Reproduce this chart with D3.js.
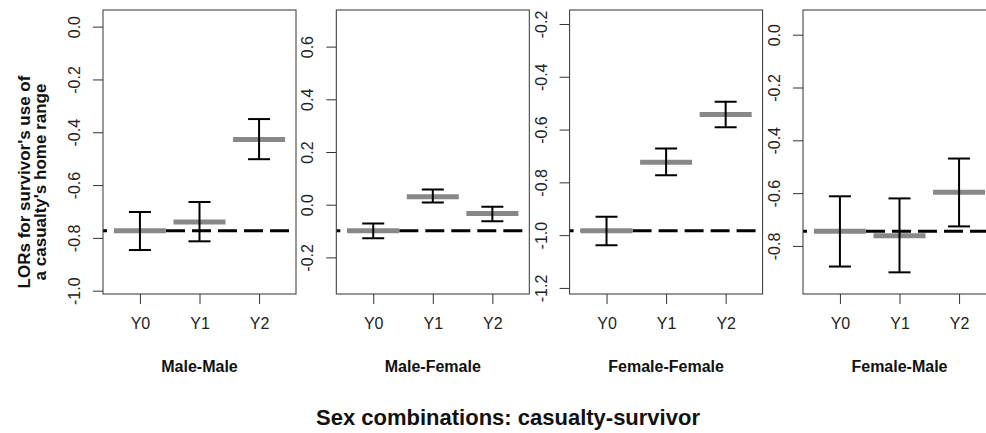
<!DOCTYPE html>
<html>
<head>
<meta charset="utf-8">
<script src="https://cdn.jsdelivr.net/npm/d3@7"></script>
<style>
body { margin: 0; background: #fff; }
svg { display: block; font-family: "Liberation Sans", Arial, sans-serif; }
</style>
</head>
<body>
<svg id="chart" width="986" height="433"></svg>
<script>
const groups = ["Male-Male", "Male-Female", "Female-Female", "Female-Male"];
const years = ["Y0", "Y1", "Y2"];
const means = [
  [-0.773, -0.740, -0.427],
  [-0.099, 0.030, -0.033],
  [-0.983, -0.724, -0.543],
  [-0.744, -0.761, -0.597]
];
const upper = [
  [-0.702, -0.664, -0.350],
  [-0.071, 0.058, -0.008],
  [-0.930, -0.672, -0.495],
  [-0.612, -0.620, -0.469]
];
const lower = [
  [-0.846, -0.813, -0.502],
  [-0.127, 0.008, -0.063],
  [-1.038, -0.773, -0.591],
  [-0.878, -0.900, -0.726]
];
const refLine = [-0.773, -0.099, -0.983, -0.744];
const yTicks = [
  [0.0, -0.2, -0.4, -0.6, -0.8, -1.0],
  [0.6, 0.4, 0.2, 0.0, -0.2],
  [-0.2, -0.4, -0.6, -0.8, -1.0, -1.2],
  [0.0, -0.2, -0.4, -0.6, -0.8]
];
const yDomains = [
  [-1.0125, 0.063],
  [-0.339, 0.739],
  [-1.223, -0.147],
  [-0.982, 0.0935]
];
const yTitle = ["LORs for survivor's use of", "a casualty's home range"];
const xTitle = "Sex combinations: casualty-survivor";

const svg = d3.select("#chart");
const plotTop = 10, plotBottom = 294, pw = 193;
const lefts = [103, 336.3, 569.6, 803];

groups.forEach((g, i) => {
  const left = lefts[i];
  const x = d3.scaleLinear().domain([0.38, 3.62]).range([left, left + pw]);
  const y = d3.scaleLinear().domain(yDomains[i]).range([plotBottom, plotTop]);
  const clipId = "clip" + i;
  svg.append("clipPath").attr("id", clipId)
    .append("rect").attr("x", left).attr("y", plotTop).attr("width", pw).attr("height", plotBottom - plotTop);
  const pg = svg.append("g");
  const inner = pg.append("g").attr("clip-path", `url(#${clipId})`);

  // reference dashed line
  inner.append("line")
    .attr("x1", x(0.38)).attr("x2", x(3.62))
    .attr("y1", y(refLine[i])).attr("y2", y(refLine[i]))
    .attr("stroke", "#000").attr("stroke-width", 3)
    .attr("stroke-dasharray", "19,7").attr("stroke-dashoffset", 15);

  // gray mean bars
  inner.selectAll("line.mean").data(means[i]).join("line").attr("class", "mean")
    .attr("x1", (d, j) => x(j + 1) - 26).attr("x2", (d, j) => x(j + 1) + 26)
    .attr("y1", d => y(d)).attr("y2", d => y(d))
    .attr("stroke", "#888").attr("stroke-width", 5);

  // error bars
  const eb = inner.selectAll("g.eb").data(years).join("g").attr("class", "eb");
  eb.append("line")
    .attr("x1", (d, j) => x(j + 1)).attr("x2", (d, j) => x(j + 1))
    .attr("y1", (d, j) => y(upper[i][j])).attr("y2", (d, j) => y(lower[i][j]))
    .attr("stroke", "#000").attr("stroke-width", 2);
  eb.append("line")
    .attr("x1", (d, j) => x(j + 1) - 11).attr("x2", (d, j) => x(j + 1) + 11)
    .attr("y1", (d, j) => y(upper[i][j])).attr("y2", (d, j) => y(upper[i][j]))
    .attr("stroke", "#000").attr("stroke-width", 2);
  eb.append("line")
    .attr("x1", (d, j) => x(j + 1) - 11).attr("x2", (d, j) => x(j + 1) + 11)
    .attr("y1", (d, j) => y(lower[i][j])).attr("y2", (d, j) => y(lower[i][j]))
    .attr("stroke", "#000").attr("stroke-width", 2);

  // box
  pg.append("rect").attr("x", left).attr("y", plotTop).attr("width", pw).attr("height", plotBottom - plotTop)
    .attr("fill", "none").attr("stroke", "#333").attr("stroke-width", 1);

  // y axis
  const ya = pg.append("g").attr("transform", `translate(${left},0)`)
    .call(d3.axisLeft(y).tickValues(yTicks[i]).tickSize(10).tickSizeOuter(0)
      .tickFormat(d => (Math.abs(d) < 1e-9 ? 0 : d).toFixed(1)));
  ya.select(".domain").remove();
  ya.selectAll(".tick line").attr("stroke", "#333");
  ya.selectAll(".tick text")
    .attr("transform", "rotate(-90)").attr("x", 0).attr("y", -23).attr("dy", 0)
    .attr("text-anchor", "middle").attr("font-size", 16).attr("fill", "#222")
    .attr("font-family", "Liberation Sans, Arial, sans-serif");

  // x axis
  const xa = pg.append("g").attr("transform", `translate(0,${plotBottom})`)
    .call(d3.axisBottom(x).tickValues([1, 2, 3]).tickSize(10).tickSizeOuter(0).tickPadding(14)
      .tickFormat((d, j) => years[j]));
  xa.select(".domain").remove();
  xa.selectAll(".tick line").attr("stroke", "#333");
  xa.selectAll(".tick text").attr("font-size", 16).attr("fill", "#222")
    .attr("font-family", "Liberation Sans, Arial, sans-serif");

  // panel title
  pg.append("text").attr("x", x(2)).attr("y", 372).attr("text-anchor", "middle")
    .attr("font-size", 16).attr("font-weight", "bold").attr("fill", "#111").text(g);
});

// y axis title
const yt = svg.append("text").attr("transform", `translate(0,182) rotate(-90)`)
  .attr("text-anchor", "middle").attr("font-size", 17).attr("font-weight", "bold").attr("fill", "#111");
yt.append("tspan").attr("x", 0).attr("y", 30).text(yTitle[0]);
yt.append("tspan").attr("x", 0).attr("y", 46).text(yTitle[1]);

// x title
svg.append("text").attr("x", 508).attr("y", 425).attr("text-anchor", "middle")
  .attr("font-size", 22).attr("font-weight", "bold").attr("fill", "#111").text(xTitle);
</script>
</body>
</html>
